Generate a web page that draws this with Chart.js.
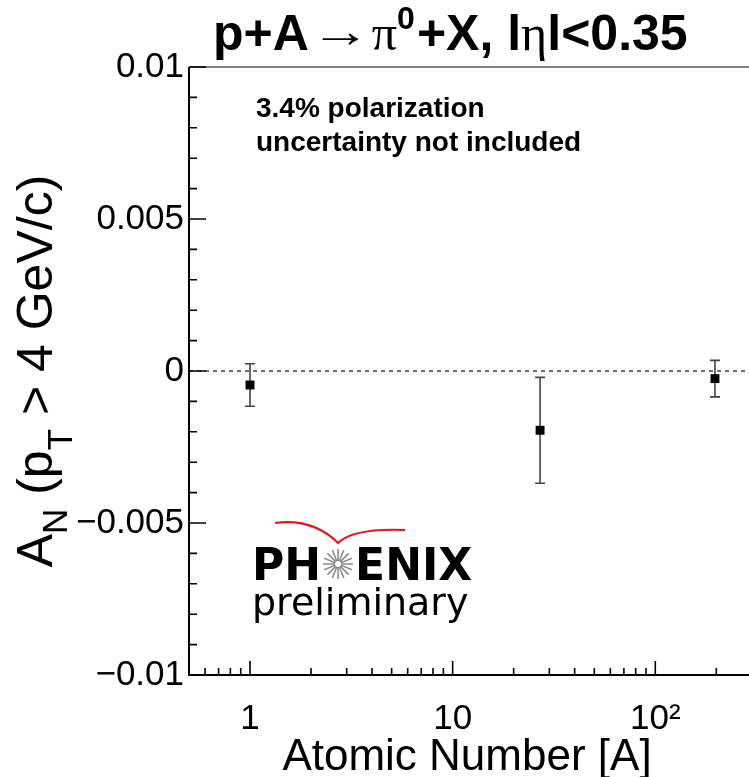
<!DOCTYPE html>
<html>
<head>
<meta charset="utf-8">
<script src="https://cdn.jsdelivr.net/npm/chart.js@4"></script>
<style>
  html, body { margin: 0; padding: 0; background: #fff; overflow: hidden; }
  canvas { display: block; }
</style>
</head>
<body>
<canvas id="asym_chart" width="749" height="777"></canvas>
<script>
// values
const atomicNumber = [1, 27, 197];
const asymmetry = [-0.00046, -0.00195, -0.00025];
const asymmetryErr = [0.0007, 0.00174, 0.0006];

const xTickValues = [1, 10, 100];
const xTickLabels = ['1', '10', '10\u00b2'];
const yTickValues = [-0.01, -0.005, 0, 0.005, 0.01];
const yTickLabels = ['\u22120.01', '\u22120.005', '0', '0.005', '0.01'];

const SANS = "'Liberation Sans', Arial, sans-serif";
const SERIF = "'Liberation Serif', 'DejaVu Serif', serif";
const LOGO = "'DejaVu Sans', sans-serif";

// draw a run of text pieces [text, font, dy] starting at x
function drawPieces(ctx, pieces, x, y) {
  pieces.forEach(p => {
    ctx.font = p[1];
    ctx.fillText(p[0], x, y + (p[2] || 0));
    x += ctx.measureText(p[0]).width;
  });
  return x;
}
function piecesWidth(ctx, pieces) {
  let w = 0;
  pieces.forEach(p => { ctx.font = p[1]; w += ctx.measureText(p[0]).width; });
  return w;
}

// ROOT-like frame, inward ticks, error bars, titles and logo
const rootStyle = {
  id: 'rootStyle',
  beforeDatasetsDraw(chart) {
    const {ctx, chartArea: ca, scales: {x, y}} = chart;
    ctx.save();
    // dashed zero line
    ctx.strokeStyle = '#222';
    ctx.lineWidth = 1.3;
    ctx.setLineDash([4, 4]);
    ctx.beginPath();
    ctx.moveTo(ca.left, y.getPixelForValue(0));
    ctx.lineTo(ca.right, y.getPixelForValue(0));
    ctx.stroke();
    ctx.setLineDash([]);
    // error bars
    ctx.strokeStyle = '#444';
    ctx.lineWidth = 1.6;
    atomicNumber.forEach((a, i) => {
      const px = x.getPixelForValue(a);
      const top = y.getPixelForValue(asymmetry[i] + asymmetryErr[i]);
      const bot = y.getPixelForValue(asymmetry[i] - asymmetryErr[i]);
      ctx.beginPath();
      ctx.moveTo(px, top); ctx.lineTo(px, bot);
      ctx.moveTo(px - 5, top); ctx.lineTo(px + 5, top);
      ctx.moveTo(px - 5, bot); ctx.lineTo(px + 5, bot);
      ctx.stroke();
    });
    ctx.restore();
  },
  afterDraw(chart) {
    const {ctx, chartArea: ca, scales: {x, y}} = chart;
    ctx.save();
    // top frame line
    ctx.strokeStyle = '#555';
    ctx.lineWidth = 1.6;
    ctx.beginPath();
    ctx.moveTo(ca.left, ca.top); ctx.lineTo(ca.right, ca.top);
    ctx.stroke();
    // axes
    ctx.strokeStyle = '#000';
    ctx.lineWidth = 2;
    ctx.beginPath();
    ctx.moveTo(ca.left, ca.top); ctx.lineTo(ca.left, ca.bottom); ctx.lineTo(ca.right, ca.bottom);
    ctx.stroke();
    // y ticks (every 0.001, major every 0.005)
    ctx.lineWidth = 1.6;
    ctx.beginPath();
    for (let k = -10; k <= 10; k++) {
      const py = y.getPixelForValue(k * 0.001);
      const len = (k % 5 === 0) ? 17 : 8;
      ctx.moveTo(ca.left, py); ctx.lineTo(ca.left + len, py);
    }
    // x ticks (log decades)
    for (let d = -1; d <= 2; d++) {
      for (let m = 1; m <= 9; m++) {
        const v = m * Math.pow(10, d);
        if (v < x.min || v > x.max) continue;
        const px = x.getPixelForValue(v);
        const len = (m === 1) ? 14 : 7;
        ctx.moveTo(px, ca.bottom); ctx.lineTo(px, ca.bottom - len);
      }
    }
    ctx.stroke();

    ctx.fillStyle = '#000';
    ctx.textBaseline = 'alphabetic';
    ctx.textAlign = 'left';

    // plot title
    const B = 'bold 50px ' + SANS;
    const TB = 50;
    let tx = drawPieces(ctx, [['p+A', B]], 213, TB);
    // long thin arrow
    ctx.save();
    ctx.font = '46px ' + SERIF;
    const aw = ctx.measureText('\u2192').width;
    ctx.translate(tx + 2, TB);
    ctx.scale(60 / aw, 1);
    ctx.fillText('\u2192', 0, -3);
    ctx.restore();
    tx += 63;
    tx = drawPieces(ctx, [['\u03c0', '50px ' + SERIF], ['0', 'bold 32px ' + SANS, -21]], tx, TB);
    tx = drawPieces(ctx, [['+X, ', B], ['l', B], ['\u03b7', '50px ' + SERIF], ['l<0.35', B]], tx + 2, TB);

    // note
    ctx.font = 'bold 28px ' + SANS;
    ctx.fillText('3.4% polarization', ca.left + 67, ca.top + 50);
    ctx.fillText('uncertainty not included', ca.left + 67, ca.top + 84);

    // x axis title
    ctx.font = '44px ' + SANS;
    ctx.textAlign = 'center';
    ctx.fillText('Atomic Number [A]', (ca.left + ca.right) / 2 - 2, 770);
    ctx.textAlign = 'left';

    // y axis title, rotated
    const R = '50px ' + SANS, S = '35px ' + SANS;
    const yPieces = [['A', R], ['N', S, 15], [' (p', R], ['T', S, 20], [' > 4 GeV/c)', R]];
    ctx.save();
    ctx.translate(52, (ca.top + ca.bottom) / 2);
    ctx.rotate(-Math.PI / 2);
    drawPieces(ctx, yPieces, -piecesWidth(ctx, yPieces) / 2, 0);
    ctx.restore();

    // PHENIX preliminary mark
    const lx = ca.left + 63, ly = ca.bottom - 95;
    ctx.font = 'bold 44px ' + LOGO;
    ctx.fillText('PH', lx, ly);
    const sx = lx + ctx.measureText('PH').width + 17;
    ctx.fillText('ENIX', sx + 17, ly);
    ctx.strokeStyle = '#8a8a8a';
    ctx.lineWidth = 1.5;
    ctx.beginPath();
    for (let k = 0; k < 16; k++) {
      const t = k * Math.PI / 8;
      ctx.moveTo(sx + 3 * Math.cos(t), ly - 16 + 3 * Math.sin(t));
      ctx.lineTo(sx + 15 * Math.cos(t), ly - 16 + 15 * Math.sin(t));
    }
    ctx.stroke();
    ctx.strokeStyle = '#e8141c';
    ctx.lineWidth = 2.2;
    ctx.beginPath();
    ctx.moveTo(sx - 63, ly - 57);
    ctx.quadraticCurveTo(sx - 25, ly - 62, sx, ly - 37);
    ctx.quadraticCurveTo(sx + 15, ly - 52, sx + 67, ly - 50);
    ctx.stroke();
    ctx.font = '38px ' + LOGO;
    ctx.fillText('preliminary', lx, ly + 35);
    ctx.restore();
  }
};

new Chart(document.getElementById('asym_chart'), {
  type: 'scatter',
  data: {
    datasets: [{
      data: atomicNumber.map((a, i) => ({x: a, y: asymmetry[i]})),
      pointStyle: 'rect',
      pointRadius: 6.3,
      pointHoverRadius: 6.3,
      backgroundColor: '#000',
      borderColor: '#000',
      borderWidth: 0
    }]
  },
  options: {
    responsive: false,
    animation: false,
    layout: {autoPadding: false, padding: {top: 67, left: 0, right: 0, bottom: 0}},
    plugins: {legend: {display: false}, tooltip: {enabled: false}},
    scales: {
      x: {
        type: 'logarithmic',
        min: 0.5,
        max: 290,
        afterBuildTicks: s => { s.ticks = xTickValues.map(v => ({value: v})); },
        afterFit: s => { s.height = 102; },
        grid: {display: false, drawTicks: false},
        border: {display: false},
        ticks: {
          autoSkip: false,
          maxRotation: 0,
          padding: 23,
          color: '#000',
          font: {family: SANS, size: 35},
          callback: (v, i) => xTickLabels[i]
        }
      },
      y: {
        min: -0.01,
        max: 0.01,
        afterBuildTicks: s => { s.ticks = yTickValues.map(v => ({value: v})); },
        afterFit: s => { s.width = 189; },
        grid: {display: false, drawTicks: false},
        border: {display: false},
        ticks: {
          autoSkip: false,
          padding: 5,
          color: '#000',
          font: {family: SANS, size: 35},
          callback: (v, i) => yTickLabels[i]
        }
      }
    }
  },
  plugins: [rootStyle]
});
</script>
</body>
</html>
